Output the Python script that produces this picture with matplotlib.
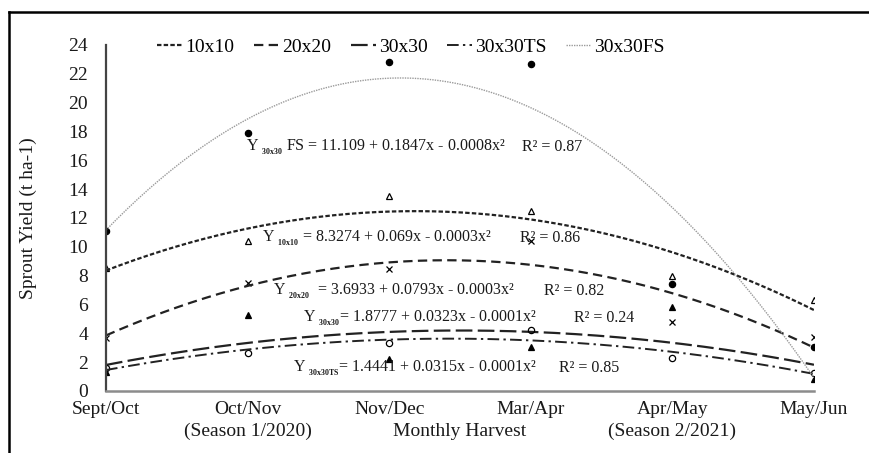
import numpy as np
import matplotlib
matplotlib.use("Agg")
import matplotlib.pyplot as plt
from matplotlib.lines import Line2D
from matplotlib import transforms

plt.rcParams['font.family'] = ['Liberation Serif', 'DejaVu Serif']
plt.rcParams['mathtext.fontset'] = 'custom'
plt.rcParams['mathtext.rm'] = 'Liberation Serif'
plt.rcParams['mathtext.bf'] = 'Liberation Serif:bold'
plt.rcParams['mathtext.it'] = 'Liberation Serif:italic'

# harvest months
months = ["Sept/Oct", "Oct/Nov", "Nov/Dec", "Mar/Apr", "Apr/May", "May/Jun"]

# sprout yield (t/ha) per spacing
y10x10 = [8.5, 10.4, 13.5, 12.5, 8.0, 6.3]
y20x20 = [3.7, 7.5, 8.45, 10.4, 4.8, 3.75]
y30x30 = [1.3, 5.3, 2.2, 3.05, 5.8, 0.85]
y30x30TS = [1.6, 2.65, 3.3, 4.2, 2.3, 1.25]
y30x30FS = [11.1, 17.9, 22.8, 22.7, 7.45, 3.05]

names = ["10x10", "20x20", "30x30", "30x30TS", "30x30FS"]
equations = [
    r"Y $_{_{\mathbf{10x10}}}$ = 8.3274 + 0.069x - 0.0003x²",
    r"Y $_{_{\mathbf{20x20}}}$  = 3.6933 + 0.0793x - 0.0003x²",
    r"Y $_{_{\mathbf{30x30}}}$= 1.8777 + 0.0323x - 0.0001x²",
    r"Y $_{_{\mathbf{30x30TS}}}$= 1.4441 + 0.0315x - 0.0001x²",
    r"Y $_{_{\mathbf{30x30}}}$ FS = 11.109 + 0.1847x - 0.0008x²",
]
r2 = ["R² = 0.86", "R² = 0.82", "R² = 0.24", "R² = 0.85", "R² = 0.87"]

series = [y10x10, y20x20, y30x30, y30x30TS, y30x30FS]
markers = [dict(marker='^', mfc='none'), dict(marker='x', mfc='none'),
           dict(marker='^', mfc='black'), dict(marker='o', mfc='none'),
           dict(marker='o', mfc='black')]
styles = [dict(color='#222222', lw=1.6, dashes=(2.0, 1.0)),
          dict(color='#222222', lw=1.6, dashes=(4.2, 2.4)),
          dict(color='#222222', lw=1.6, dashes=(7.5, 2.4)),
          dict(color='#222222', lw=1.4, dashes=(6.0, 2.2, 1.2, 2.2)),
          dict(color='#9a9a9a', lw=1.0, dashes=(1.0, 0.8))]

fig = plt.figure(figsize=(8.7, 4.53), dpi=100)
ax = fig.add_axes([0.1218, 0.1369, 0.8138, 0.7638])

x = np.arange(len(months))
xs = np.linspace(0, len(months) - 1, 200)
handles = []
for i in range(len(series)):
    yv = np.array(series[i])
    ax.plot(x, yv, linestyle='none', color='black', ms=4.5, mew=0.9, **markers[i])
    coef = np.polyfit(x, yv, 2)
    ax.plot(xs, np.polyval(coef, xs), **styles[i])
    handles.append(Line2D([], [], **styles[i]))

ax.set_xlim(0, 5)
ax.set_ylim(0, 24)
ax.set_yticks(range(0, 25, 2))
ax.set_xticks(x)
ax.set_xticklabels(months)
ax.tick_params(axis='both', length=0, labelsize=14, labelcolor='#1a1a1a')
ax.tick_params(axis='y', pad=13)
ax.tick_params(axis='x', pad=7.5)
for s in ['top', 'right']:
    ax.spines[s].set_visible(False)
ax.spines['left'].set_color('#444444')
ax.spines['left'].set_linewidth(1.6)
ax.spines['bottom'].set_color('#8c8c8c')
ax.spines['bottom'].set_linewidth(1.8)

ax.set_ylabel("Sprout Yield (t ha-1)", fontsize=14, color='#1a1a1a')
ax.yaxis.set_label_coords(-0.11, 0.5)
ax.yaxis.label.set_va('center')
ax.set_xlabel("Monthly Harvest", fontsize=14, color='#1a1a1a')
ax.xaxis.set_label_coords(0.5, -0.118)
ax.xaxis.label.set_va('center')
trans = transforms.blended_transform_factory(ax.transData, ax.transAxes)
ax.text(1, -0.118, "(Season 1/2020)", transform=trans, ha='center', va='center',
        fontsize=14, color='#1a1a1a')
ax.text(4, -0.118, "(Season 2/2021)", transform=trans, ha='center', va='center',
        fontsize=14, color='#1a1a1a')

# equation labels (pixel positions of the original layout)
eq_pos = [(262, 238, 520), (273, 291, 544), (303, 318, 574), (293, 368, 559), (246, 147, 522)]
for i in range(len(equations)):
    px, py, rx = eq_pos[i]
    fig.text(px / 870, 1 - py / 453, equations[i], fontsize=11.5, ha='left', va='center',
             color='#1a1a1a')
    fig.text(rx / 870, 1 - py / 453, r2[i], fontsize=11.5, ha='left', va='center',
             color='#1a1a1a')

fig.legend(handles, names, loc='center', bbox_to_anchor=(411 / 870, 1 - 47 / 453),
           ncol=5, frameon=False, fontsize=14, handlelength=1.3, handletextpad=0.15,
           columnspacing=1.0, borderaxespad=0)

# outer frame (left and top edge visible)
fig.add_artist(Line2D([9 / 870, 9 / 870], [0, 1 - 12 / 453], color='black', lw=1.8))
fig.add_artist(Line2D([9 / 870, 1], [1 - 12 / 453, 1 - 12 / 453], color='black', lw=1.8))

fig.savefig("out.png", dpi=100)
